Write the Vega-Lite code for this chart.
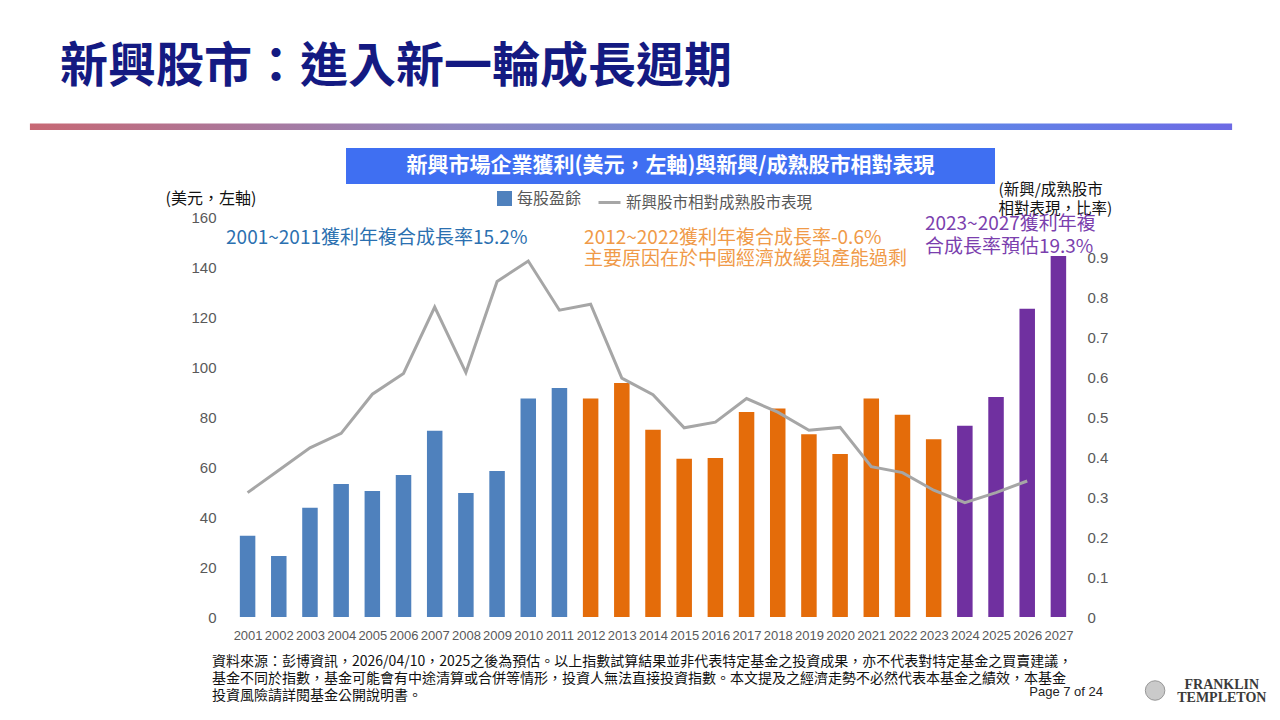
{
  "$schema": "https://vega.github.io/schema/vega-lite/v6.json",
  "width": 842,
  "height": 400,
  "autosize": {"type": "none"},
  "padding": {"left": 232, "top": 217, "right": 206, "bottom": 103},
  "background": "white",
  "title": {
    "text": "新興股市：進入新一輪成長週期",
    "anchor": "start",
    "frame": "group",
    "dx": -172,
    "offset": 32,
    "fontSize": 48,
    "font": "Noto Sans CJK TC",
    "fontWeight": "bold",
    "color": "#141a82"
  },
  "config": {
    "view": {"stroke": null},
    "axis": {
      "labelFont": "Liberation Sans",
      "labelColor": "#595959",
      "titleFont": "Noto Sans CJK TC",
      "titleFontWeight": "normal",
      "titleColor": "#111111",
      "ticks": false,
      "domain": false
    },
    "axisX": {"labelOverlap": false, "tickCount": 40, "labelFlush": false, "labelFontSize": 13, "labelPadding": 12, "grid": false},
    "legend": {
      "labelFont": "Noto Sans CJK TC",
      "labelColor": "#595959",
      "labelFontSize": 15.5,
      "labelLimit": 0,
      "padding": 0
    }
  },
  "data": {
    "values": [
      {"year": 2001, "eps": 32.5, "ratio": 0.311},
      {"year": 2002, "eps": 24.4, "ratio": 0.367},
      {"year": 2003, "eps": 43.7, "ratio": 0.423},
      {"year": 2004, "eps": 53.2, "ratio": 0.459},
      {"year": 2005, "eps": 50.4, "ratio": 0.557},
      {"year": 2006, "eps": 56.8, "ratio": 0.609},
      {"year": 2007, "eps": 74.5, "ratio": 0.775},
      {"year": 2008, "eps": 49.6, "ratio": 0.611},
      {"year": 2009, "eps": 58.4, "ratio": 0.839},
      {"year": 2010, "eps": 87.4, "ratio": 0.89},
      {"year": 2011, "eps": 91.6, "ratio": 0.767},
      {"year": 2012, "eps": 87.4, "ratio": 0.782},
      {"year": 2013, "eps": 93.6, "ratio": 0.597},
      {"year": 2014, "eps": 74.9, "ratio": 0.556},
      {"year": 2015, "eps": 63.3, "ratio": 0.473},
      {"year": 2016, "eps": 63.6, "ratio": 0.487},
      {"year": 2017, "eps": 82.0, "ratio": 0.546},
      {"year": 2018, "eps": 83.4, "ratio": 0.512},
      {"year": 2019, "eps": 73.1, "ratio": 0.467},
      {"year": 2020, "eps": 65.2, "ratio": 0.474},
      {"year": 2021, "eps": 87.4, "ratio": 0.376},
      {"year": 2022, "eps": 80.9, "ratio": 0.361},
      {"year": 2023, "eps": 71.1, "ratio": 0.317},
      {"year": 2024, "eps": 76.5, "ratio": 0.286},
      {"year": 2025, "eps": 88.0, "ratio": 0.311},
      {"year": 2026, "eps": 123.3, "ratio": 0.34},
      {"year": 2027, "eps": 144.4, "ratio": null}
    ]
  },
  "layer": [
    {
      "layer": [
        {
          "data": {"values": [{}]},
          "mark": {
            "type": "rect",
            "color": {
              "gradient": "linear",
              "x1": 0, "x2": 1, "y1": 0, "y2": 0,
              "stops": [
                {"offset": 0, "color": "#c76874"},
                {"offset": 0.35, "color": "#8f86c0"},
                {"offset": 0.7, "color": "#5b8fe8"},
                {"offset": 1, "color": "#6d6ae4"}
              ]
            }
          },
          "encoding": {
            "x": {"datum": 1994.02, "type": "quantitative", "scale": {"domain": [2000.5, 2027.5], "nice": false, "padding": 0}, "axis": {"labelOverlap": false, "tickCount": 40, "labelFlush": false}},
            "x2": {"datum": 2032.57},
            "y": {"datum": 197.4, "type": "quantitative", "scale": {"domain": [0, 160], "nice": false}},
            "y2": {"datum": 194.8}
          }
        },
        {
          "data": {"values": [{}]},
          "mark": {"type": "rect", "color": "#3f6ff2"},
          "encoding": {
            "x": {"datum": 2004.156, "type": "quantitative", "scale": {"domain": [2000.5, 2027.5], "nice": false, "padding": 0}, "axis": {"labelOverlap": false, "tickCount": 40, "labelFlush": false}},
            "x2": {"datum": 2024.967},
            "y": {"datum": 187.6, "type": "quantitative", "scale": {"domain": [0, 160], "nice": false}},
            "y2": {"datum": 173.2}
          }
        },
        {
          "data": {"values": [{}]},
          "mark": {
            "type": "text",
            "text": "新興市場企業獲利(美元，左軸)與新興/成熟股市相對表現",
            "font": "Noto Sans CJK TC",
            "fontSize": 21,
            "fontWeight": "bold",
            "color": "white",
            "align": "center",
            "baseline": "middle"
          },
          "encoding": {
            "x": {"datum": 2014.56, "type": "quantitative", "scale": {"domain": [2000.5, 2027.5], "nice": false, "padding": 0}, "axis": {"labelOverlap": false, "tickCount": 40, "labelFlush": false}},
            "y": {"datum": 180.4, "type": "quantitative", "scale": {"domain": [0, 160], "nice": false}}
          }
        },
        {
          "mark": {"type": "bar", "size": 15.5},
          "encoding": {
            "x": {
              "field": "year",
              "type": "quantitative",
              "scale": {"domain": [2000.5, 2027.5], "nice": false, "padding": 0},
              "axis": {
                "title": null,
                "values": [2001, 2002, 2003, 2004, 2005, 2006, 2007, 2008, 2009, 2010, 2011, 2012, 2013, 2014, 2015, 2016, 2017, 2018, 2019, 2020, 2021, 2022, 2023, 2024, 2025, 2026, 2027],
                "tickCount": 40,
                "format": "d",
                "grid": false,
                "labelFontSize": 13,
                "labelPadding": 12,
                "labelOverlap": false,
                "labelFlush": false
              }
            },
            "y": {
              "field": "eps",
              "type": "quantitative",
              "scale": {"domain": [0, 160], "nice": false},
              "axis": {
                "title": "(美元，左軸)",
                "titleAngle": 0,
                "titleAlign": "left",
                "titleBaseline": "middle",
                "titleX": -67,
                "titleY": -19,
                "titleFontSize": 16,
                "values": [0, 20, 40, 60, 80, 100, 120, 140, 160],
                "labelFontSize": 15,
                "labelPadding": 16,
                "gridColor": "#d9d9d9",
                "gridWidth": 1.2
              }
            },
            "color": {
              "datum": "每股盈餘",
              "type": "nominal",
              "scale": {"range": ["#4f81bd"]},
              "legend": {
                "title": null,
                "orient": "none",
                "legendX": 264,
                "legendY": -27,
                "symbolType": "square",
                "symbolSize": 225,
                "labelFontSize": 16,
                "labelOffset": 4
              },
              "condition": [
                {"test": "datum.year >= 2024", "value": "#7030a0"},
                {"test": "datum.year >= 2012", "value": "#e46c0a"}
              ]
            }
          }
        },
        {
          "data": {"values": [{}]},
          "mark": {
            "type": "text",
            "text": "2001~2011獲利年複合成長率15.2%",
            "font": "Noto Sans CJK TC",
            "fontSize": 19,
            "color": "#2b70b0",
            "align": "left",
            "baseline": "middle"
          },
          "encoding": {
            "x": {"datum": 2000.31, "type": "quantitative", "scale": {"domain": [2000.5, 2027.5], "nice": false, "padding": 0}, "axis": {"labelOverlap": false, "tickCount": 40, "labelFlush": false}},
            "y": {"datum": 151.6, "type": "quantitative", "scale": {"domain": [0, 160], "nice": false}}
          }
        },
        {
          "data": {"values": [{}]},
          "mark": {
            "type": "text",
            "text": ["2012~2022獲利年複合成長率-0.6%", "主要原因在於中國經濟放緩與產能過剩"],
            "lineHeight": 21,
            "font": "Noto Sans CJK TC",
            "fontSize": 19,
            "color": "#f09a48",
            "align": "left",
            "baseline": "middle"
          },
          "encoding": {
            "x": {"datum": 2011.79, "type": "quantitative", "scale": {"domain": [2000.5, 2027.5], "nice": false, "padding": 0}, "axis": {"labelOverlap": false, "tickCount": 40, "labelFlush": false}},
            "y": {"datum": 151.6, "type": "quantitative", "scale": {"domain": [0, 160], "nice": false}}
          }
        },
        {
          "data": {"values": [{}]},
          "mark": {
            "type": "text",
            "text": ["2023~2027獲利年複", "合成長率預估19.3%"],
            "lineHeight": 23,
            "font": "Noto Sans CJK TC",
            "fontSize": 19,
            "color": "#7b3fae",
            "align": "left",
            "baseline": "middle"
          },
          "encoding": {
            "x": {"datum": 2022.72, "type": "quantitative", "scale": {"domain": [2000.5, 2027.5], "nice": false, "padding": 0}, "axis": {"labelOverlap": false, "tickCount": 40, "labelFlush": false}},
            "y": {"datum": 157.2, "type": "quantitative", "scale": {"domain": [0, 160], "nice": false}}
          }
        },
        {
          "data": {"values": [{}]},
          "mark": {
            "type": "text",
            "text": [
              "資料來源：彭博資訊，2026/04/10，2025之後為預估。以上指數試算結果並非代表特定基金之投資成果，亦不代表對特定基金之買賣建議，",
              "基金不同於指數，基金可能會有中途清算或合併等情形，投資人無法直接投資指數。本文提及之經濟走勢不必然代表本基金之績效，本基金",
              "投資風險請詳閱基金公開說明書。"
            ],
            "lineHeight": 17,
            "font": "Noto Sans CJK TC",
            "fontSize": 14,
            "color": "#111111",
            "align": "left",
            "baseline": "middle"
          },
          "encoding": {
            "x": {"datum": 1999.86, "type": "quantitative", "scale": {"domain": [2000.5, 2027.5], "nice": false, "padding": 0}, "axis": {"labelOverlap": false, "tickCount": 40, "labelFlush": false}},
            "y": {"datum": -18, "type": "quantitative", "scale": {"domain": [0, 160], "nice": false}}
          }
        },
        {
          "data": {"values": [{}]},
          "mark": {
            "type": "text",
            "text": "Page 7 of 24",
            "font": "Liberation Sans",
            "fontSize": 13,
            "color": "#222222",
            "align": "right",
            "baseline": "middle"
          },
          "encoding": {
            "x": {"datum": 2028.43, "type": "quantitative", "scale": {"domain": [2000.5, 2027.5], "nice": false, "padding": 0}, "axis": {"labelOverlap": false, "tickCount": 40, "labelFlush": false}},
            "y": {"datum": -30, "type": "quantitative", "scale": {"domain": [0, 160], "nice": false}}
          }
        },
        {
          "data": {"values": [{}]},
          "mark": {"type": "point", "filled": true, "size": 380, "color": "#b5b5b5", "stroke": "#6b6b6b", "strokeWidth": 1},
          "encoding": {
            "x": {"datum": 2030.1, "type": "quantitative", "scale": {"domain": [2000.5, 2027.5], "nice": false, "padding": 0}, "axis": {"labelOverlap": false, "tickCount": 40, "labelFlush": false}},
            "y": {"datum": -29.4, "type": "quantitative", "scale": {"domain": [0, 160], "nice": false}}
          }
        },
        {
          "data": {"values": [{}]},
          "mark": {
            "type": "text",
            "text": ["FRANKLIN", "TEMPLETON"],
            "lineHeight": 13,
            "font": "Liberation Serif",
            "fontWeight": "bold",
            "fontSize": 14,
            "color": "#3a3a3a",
            "align": "center",
            "baseline": "middle"
          },
          "encoding": {
            "x": {"datum": 2032.24, "type": "quantitative", "scale": {"domain": [2000.5, 2027.5], "nice": false, "padding": 0}, "axis": {"labelOverlap": false, "tickCount": 40, "labelFlush": false}},
            "y": {"datum": -27.2, "type": "quantitative", "scale": {"domain": [0, 160], "nice": false}}
          }
        }
      ]
    },
    {
      "layer": [
        {
          "mark": {"type": "line", "strokeWidth": 3, "interpolate": "linear"},
          "encoding": {
            "x": {"field": "year", "type": "quantitative", "scale": {"domain": [2000.5, 2027.5], "nice": false, "padding": 0}, "axis": {"labelOverlap": false, "tickCount": 40, "labelFlush": false}},
            "y": {
              "field": "ratio",
              "type": "quantitative",
              "scale": {"domain": [0, 1], "nice": false},
              "axis": {
                "orient": "right",
                "grid": false,
                "values": [0, 0.1, 0.2, 0.3, 0.4, 0.5, 0.6, 0.7, 0.8, 0.9],
                "format": ".1~f",
                "labelFontSize": 15,
                "labelPadding": 13,
                "title": ["(新興/成熟股市", "\u00a0\u00a0\u00a0相對表現，比率)"],
                "titleAngle": 0,
                "titleAlign": "left",
                "titleBaseline": "top",
                "titleX": -76,
                "titleY": -35,
                "titleFontSize": 15.5,
                "titleLineHeight": 19
              }
            },
            "stroke": {
              "datum": "新興股市相對成熟股市表現",
              "type": "nominal",
              "scale": {"range": ["#a6a6a6"]},
              "legend": {
                "title": null,
                "orient": "none",
                "legendX": 365,
                "legendY": -27,
                "symbolType": "stroke",
                "symbolStrokeWidth": 3,
                "symbolSize": 484,
                "labelFontSize": 15.5,
                "labelOffset": 4
              }
            }
          }
        }
      ]
    }
  ],
  "resolve": {"scale": {"y": "independent"}}
}
